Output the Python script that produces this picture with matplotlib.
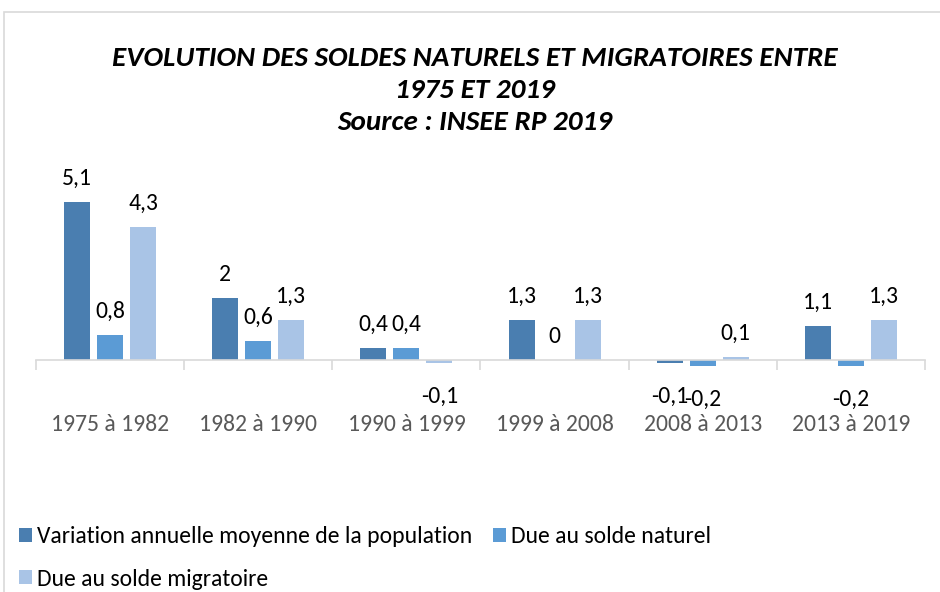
import matplotlib.pyplot as plt
import matplotlib.patches as mpatches
import numpy as np

periodes = ["1975 à 1982", "1982 à 1990", "1990 à 1999", "1999 à 2008", "2008 à 2013", "2013 à 2019"]
variation = [5.1, 2, 0.4, 1.3, -0.1, 1.1]
solde_naturel = [0.8, 0.6, 0.4, 0, -0.2, -0.2]
solde_migratoire = [4.3, 1.3, -0.1, 1.3, 0.1, 1.3]

noms = ["Variation annuelle moyenne de la population", "Due au solde naturel", "Due au solde migratoire"]
couleurs = ["#4a7eb0", "#5b9bd5", "#a9c4e6"]

police = ["Carlito", "Liberation Sans Narrow", "Open Sans", "DejaVu Sans"]
plt.rcParams["font.family"] = police

fig = plt.figure(figsize=(9.4, 5.92), dpi=100)
ax = fig.add_axes([36 / 940, 201 / 592, 889 / 940, 201.5 / 592])

# cadre gris du graphique
fig.patches.append(mpatches.Rectangle((4 / 940, -0.1), 1.2, 1 - 12 / 592 + 0.1,
                                      transform=fig.transFigure, fill=False,
                                      edgecolor="#d9d9d9", linewidth=1.2))

x = np.arange(len(periodes))
largeur = 0.176
decalage = 0.223

barres = []
for i, (serie, couleur, nom) in enumerate(zip([variation, solde_naturel, solde_migratoire], couleurs, noms)):
    pos = x + (i - 1) * decalage
    b = ax.bar(pos, serie, largeur, color=couleur, label=nom)
    barres.append(b)
    for px, v in zip(pos, serie):
        texte = f"{v:g}".replace(".", ",")
        dy = 17 if v >= 0 else -24
        ax.annotate(texte, xy=(px, v), xytext=(0, dy), textcoords="offset points",
                    ha="center", va="center", fontsize=17, color="black")

ax.set_xlim(-0.5, len(periodes) - 0.5)
ax.set_ylim(-1.0, 5.5)
ax.set_yticks([])
for s in ["top", "left", "right"]:
    ax.spines[s].set_visible(False)
ax.spines["bottom"].set_position(("data", 0))
ax.spines["bottom"].set_color("#d9d9d9")
ax.spines["bottom"].set_linewidth(1.2)

ax.set_xticks(x)
ax.set_xticklabels(periodes)
ax.tick_params(axis="x", which="major", length=0, pad=39, labelsize=17, labelcolor="#595959")
ax.set_xticks(np.arange(-0.5, len(periodes)), minor=True)
ax.tick_params(axis="x", which="minor", length=7, color="#d9d9d9", width=1.2)

fig.text(0.505, 1 - 90 / 592, "EVOLUTION DES SOLDES NATURELS ET MIGRATOIRES ENTRE\n1975 ET 2019\nSource : INSEE RP 2019",
         ha="center", va="center", fontsize=21, fontweight="bold", fontstyle="italic",
         linespacing=1.38, color="black")

ordre = [barres[0], barres[2], barres[1]]
fig.legend(ordre, [noms[0], noms[2], noms[1]], ncol=2, loc="lower left",
           bbox_to_anchor=(7 / 940, -0.016), frameon=False, fontsize=17,
           handlelength=0.55, handleheight=0.55, handletextpad=0.2,
           columnspacing=0.9, labelspacing=0.9, borderaxespad=0.1)

fig.savefig("out.png", dpi=100)
